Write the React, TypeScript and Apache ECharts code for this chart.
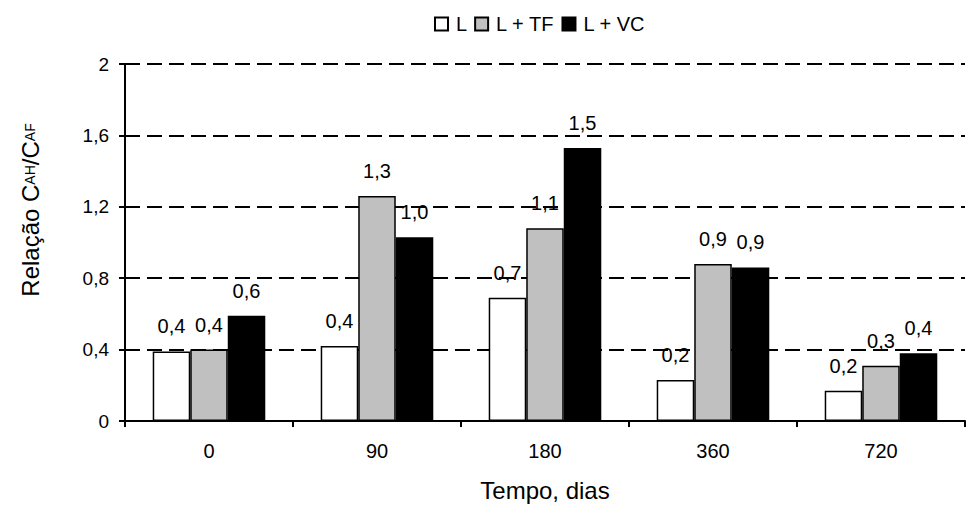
import React, { useEffect, useRef } from "react";
import * as echarts from "echarts";

const categories = ["0", "90", "180", "360", "720"];
const seriesNames = ["L", "L + TF", "L + VC"];
const valuesL = [0.39, 0.42, 0.69, 0.23, 0.17];
const valuesTF = [0.4, 1.26, 1.08, 0.88, 0.31];
const valuesVC = [0.59, 1.03, 1.53, 0.86, 0.38];
const yMin = 0;
const yMax = 2;
const yInterval = 0.4;

const FONT = "'Liberation Sans', Arial, sans-serif";

const fmt = (v: number, digits: number) =>
  String(+v.toFixed(digits)).replace(".", ",");

export default function App() {
  const ref = useRef<HTMLDivElement>(null);
  useEffect(() => {
    if (!ref.current) return;
    const chart = echarts.init(ref.current, undefined, { renderer: "svg" });
    const fills = ["#ffffff", "#c0c0c0", "#000000"];
    const datasets = [valuesL, valuesTF, valuesVC];
    chart.setOption({
      animation: false,
      backgroundColor: "#ffffff",
      textStyle: { fontFamily: FONT },
      legend: {
        left: 434,
        top: 14,
        padding: 0,
        itemWidth: 13,
        itemHeight: 13,
        itemGap: 7,
        icon: "rect",
        textStyle: { fontSize: 20, color: "#000", fontFamily: FONT, padding: [0, 0, 0, 3] },
        data: seriesNames,
      },
      grid: { left: 125, right: 1, top: 64, bottom: 87, containLabel: false },
      xAxis: {
        type: "category",
        data: categories,
        name: "Tempo, dias",
        nameLocation: "middle",
        nameGap: 57,
        nameTextStyle: { fontSize: 24, color: "#000", fontFamily: FONT },
        axisLine: { lineStyle: { color: "#000", width: 2 } },
        axisTick: { show: true, length: 6, lineStyle: { color: "#000", width: 2 } },
        axisLabel: { fontSize: 20, color: "#000", margin: 20, fontFamily: FONT },
      },
      yAxis: {
        type: "value",
        min: yMin,
        max: yMax,
        interval: yInterval,
        axisLine: { show: true, lineStyle: { color: "#000", width: 2 } },
        axisTick: { show: true, length: 6, lineStyle: { color: "#000", width: 2 } },
        axisLabel: {
          fontSize: 19,
          color: "#000",
          margin: 16,
          fontFamily: FONT,
          formatter: (v: number) => fmt(v, 1),
        },
        splitLine: { show: true, lineStyle: { color: "#000", width: 2, type: [15, 7] } },
      },
      graphic: [
        {
          type: "text",
          x: 30,
          y: 210,
          rotation: Math.PI / 2,
          style: {
            text: "{a|Relação C}{s|AH}{a|/C}{s|AF}",
            rich: {
              a: { fontSize: 24, fontFamily: FONT, fill: "#000" },
              s: { fontSize: 14, fontFamily: FONT, fill: "#000" },
            },
            fill: "#000",
            align: "center",
            verticalAlign: "middle",
          },
        },
      ],
      series: seriesNames.map((name, i) => ({
        name,
        type: "bar",
        data: datasets[i],
        barGap: "0%",
        barCategoryGap: "33%",
        itemStyle: { color: fills[i], borderColor: "#000", borderWidth: 1.5 },
        label: {
          show: true,
          position: "top",
          distance: 15,
          fontSize: 20,
          color: "#000",
          fontFamily: FONT,
          formatter: (p: any) => fmt(p.value, 1).includes(",") ? fmt(p.value, 1) : (+p.value).toFixed(1).replace(".", ","),
        },
      })),
    });
    return () => chart.dispose();
  }, []);
  return (
    <div
      ref={ref}
      style={{ position: "fixed", left: 0, top: 0, width: 966, height: 508, background: "#fff" }}
    />
  );
}
